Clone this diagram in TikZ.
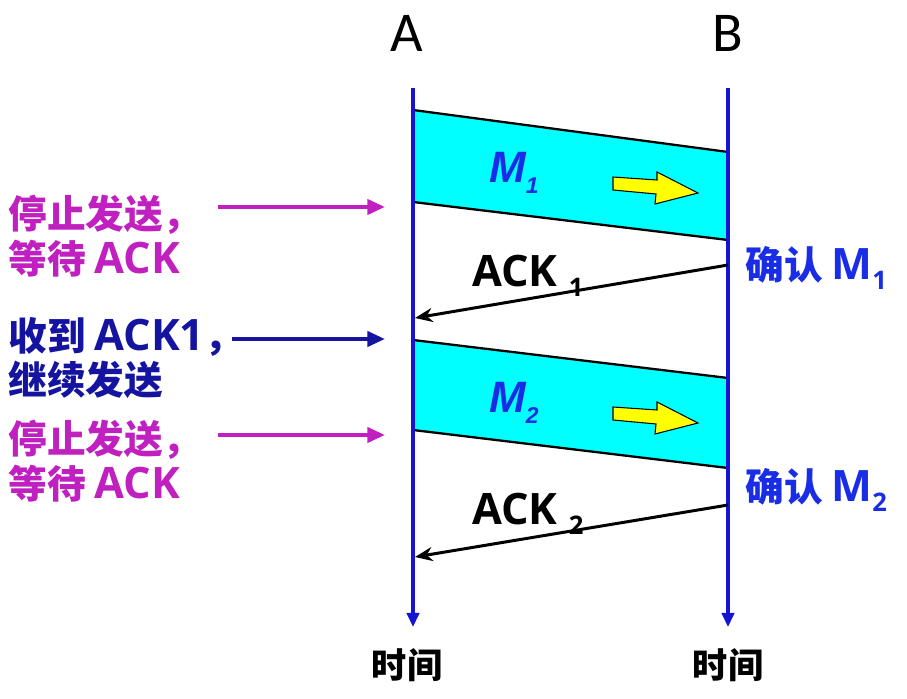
\documentclass[tikz,border=0pt]{standalone}
\usepackage{fontspec}
\setmainfont{Noto Sans CJK SC}
\setsansfont{Carlito}
\newfontfamily\msgfont{Liberation Sans}
\newfontfamily\lat{Open Sans}[Scale=1.12]
\usetikzlibrary{arrows.meta}
\definecolor{stopcol}{RGB}{192,32,192}
\definecolor{gocol}{RGB}{20,20,160}
\definecolor{linecol}{RGB}{20,20,210}
\definecolor{ackcol}{RGB}{25,45,230}
\definecolor{bandcol}{RGB}{0,255,255}
\definecolor{movecol}{RGB}{255,255,0}
\newcommand{\lowidx}[1]{\raisebox{-0.45ex}{\fontsize{13}{13}\selectfont #1}}

\tikzset{
  timeline/.style={linecol, line width=1.8pt, -{Triangle[length=8pt,width=7pt]}},
  band/.style={fill=bandcol},
  bandedge/.style={black, line width=1.3pt},
  ackline/.style={black, line width=1.7pt, -{Stealth[length=10pt,width=8pt]}},
  note/.style={line width=2.3pt, -{Triangle[length=10pt,width=8.5pt]}},
  txt/.style={font=\fontsize{22}{25.5}\selectfont\bfseries, inner sep=0pt},
  host/.style={font=\sffamily\fontsize{32}{32}\selectfont, inner sep=0pt},
  msg/.style={ackcol, font=\msgfont\bfseries\itshape\fontsize{25}{25}\selectfont, inner sep=0pt},
}

\begin{document}
\begin{tikzpicture}[x=0.02cm, y=-0.02cm]
	\useasboundingbox (0,0) rectangle (907,699);
	% hosts and time axes
	\node[host] (A) at (407,33) {A};
	\node[host] (B) at (728,33) {B};
	\node[txt, font=\fontsize{20}{20}\selectfont\bfseries] (timeA) at (407,665) {时间};
	\node[txt, font=\fontsize{20}{20}\selectfont\bfseries] (timeB) at (728,665) {时间};
	\coordinate (A0) at (413,88);
	\coordinate (A1) at (413,627);
	\coordinate (B0) at (728,88);
	\coordinate (B1) at (728,627);

	% frames M1, M2
	\fill[band] (413,110) -- (728,152) -- (728,240) -- (413,202) -- cycle;
	\draw[bandedge] (413,110) -- (728,152);
	\draw[bandedge] (413,202) -- (728,240);
	\fill[band] (413,340) -- (728,378) -- (728,468) -- (413,430) -- cycle;
	\draw[bandedge] (413,340) -- (728,378);
	\draw[bandedge] (413,430) -- (728,468);
	\foreach \dy in {0,230}
		\filldraw[fill=movecol, draw=black, line width=0.6pt, shift={(0,\dy)}]
			(613,177) -- (657,180) -- (657,172) -- (698,193) -- (655,204) -- (656,194) -- (613,190) -- cycle;
	\node[msg] (m1) at (514,173) {M\lowidx{1}};
	\node[msg] (m2) at (514,403) {M\lowidx{2}};

	\draw[timeline] (A0) -- (A1);
	\draw[timeline] (B0) -- (B1);

	% acknowledgements
	\coordinate (ackB1) at (728,265);
	\coordinate (ackA1) at (415,318);
	\coordinate (ackB2) at (728,505);
	\coordinate (ackA2) at (415,557);
	\draw[ackline] (ackB1) -- (ackA1);
	\draw[ackline] (ackB2) -- (ackA2);
	\node[txt] (ack1) at (528,276) {\lat ACK \lowidx{1}};
	\node[txt] (ack2) at (528,514) {\lat ACK \lowidx{2}};
	\node[txt, ackcol, anchor=west] (ok1) at (745,268) {确认 {\lat M\lowidx{1}}};
	\node[txt, ackcol, anchor=west] (ok2) at (745,490) {确认 {\lat M\lowidx{2}}};

	% sender states
	\node[txt, stopcol, anchor=west, align=left] (stop1) at (8,236) {停止发送，\\等待 {\lat ACK}};
	\node[txt, gocol, anchor=west, align=left] (go1) at (8,358) {收到 {\lat ACK1}，\\继续发送};
	\node[txt, stopcol, anchor=west, align=left] (stop2) at (8,461) {停止发送，\\等待 {\lat ACK}};
	\coordinate (s1) at (218,207);
	\coordinate (e1) at (385,207);
	\coordinate (s2) at (232,339);
	\coordinate (e2) at (385,339);
	\coordinate (s3) at (218,435);
	\coordinate (e3) at (385,435);
	\draw[note, stopcol] (s1) -- (e1);
	\draw[note, gocol] (s2) -- (e2);
	\draw[note, stopcol] (s3) -- (e3);
\end{tikzpicture}
\end{document}
